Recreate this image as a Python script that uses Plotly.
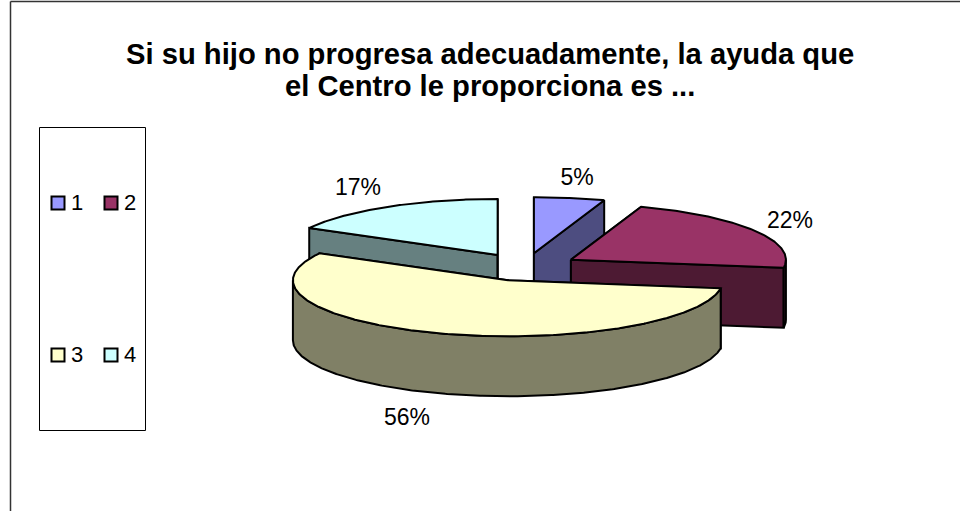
import math
import plotly.graph_objects as go

categories = ["1", "2", "3", "4"]
values = [5.3, 22.0, 55.7, 17.0]
top_colors = ["#9999FF", "#993366", "#FFFFCC", "#CCFFFF"]
wall_colors = ["#4D4D80", "#4D1A33", "#808066", "#668080"]
title_lines = ["Si su hijo no progresa adecuadamente, la ayuda que",
               "el Centro le proporciona es ..."]

# Page-pixel geometry of the tilted pie
W, H = 960, 511
CX, CY, RX, RY, DEPTH, PULL = 525.0, 267, 215, 56, 60, 0.25
LABEL_XY = [(577, 179), (790, 222), (407, 419), (358, 189)]
LEGEND_XY = [(58, 203), (111, 203), (58, 355), (111, 355)]
TITLE_Y = [54, 86]
FONT = "Liberation Sans, Arial, sans-serif"
LW = 2


def rim(cx, cy, a0, a1, dy=0):
    n = max(2, int(abs(a1 - a0) * 2))
    pts = [a0 + (a1 - a0) * i / n for i in range(n + 1)]
    return ([cx + RX * math.sin(math.radians(a)) for a in pts],
            [cy - RY * math.cos(math.radians(a)) + dy for a in pts])


def poly(fig, xs, ys, color):
    fig.add_trace(go.Scatter(
        x=xs + xs[:1], y=ys + ys[:1], mode="lines", fill="toself", fillcolor=color,
        line=dict(color="black", width=LW), hoverinfo="skip", showlegend=False))


fig = go.Figure()

total = sum(values)
slices = []
acc = 0
for v in values:
    a0 = acc / total * 360
    acc += v
    a1 = acc / total * 360
    mid = math.radians((a0 + a1) / 2)
    slices.append((a0, a1, CX + PULL * RX * math.sin(mid), CY - PULL * RY * math.cos(mid)))

for i in [3, 0, 1, 2]:
    a0, a1, cx, cy = slices[i]
    for a in (a0, a1):
        ex = cx + RX * math.sin(math.radians(a))
        ey = cy - RY * math.cos(math.radians(a))
        poly(fig, [cx, ex, ex, cx], [cy, ey, ey + DEPTH, cy + DEPTH], wall_colors[i])
    lo, hi = max(a0, 90), min(a1, 270)
    if hi > lo:
        tx, ty = rim(cx, cy, lo, hi)
        bx, by = rim(cx, cy, hi, lo, DEPTH)
        poly(fig, tx + bx, ty + by, wall_colors[i])
    tx, ty = rim(cx, cy, a0, a1)
    poly(fig, [cx] + tx, [cy] + ty, top_colors[i])

# Percentage labels
fig.add_trace(go.Scatter(
    x=[p[0] for p in LABEL_XY], y=[p[1] for p in LABEL_XY], mode="text",
    text=[f"{round(v / total * 100)}%" for v in values],
    textfont=dict(family=FONT, size=23, color="black"),
    hoverinfo="skip", showlegend=False))

# Legend
for i, c in enumerate(categories):
    fig.add_trace(go.Scatter(
        x=[LEGEND_XY[i][0]], y=[LEGEND_XY[i][1]], mode="markers",
        marker=dict(symbol="square", size=13, color=top_colors[i], line=dict(color="black", width=2)),
        hoverinfo="skip", showlegend=False))
    fig.add_trace(go.Scatter(
        x=[LEGEND_XY[i][0] + 13], y=[LEGEND_XY[i][1] + 1], mode="text",
        text=[c], textposition="middle right",
        textfont=dict(family=FONT, size=22, color="black"),
        hoverinfo="skip", showlegend=False))

fig.update_layout(
    width=W, height=H, autosize=False,
    margin=dict(l=0, r=0, t=0, b=0),
    paper_bgcolor="white", plot_bgcolor="white",
    xaxis=dict(range=[0, W], visible=False, fixedrange=True),
    yaxis=dict(range=[H, 0], visible=False, fixedrange=True),
    shapes=[
        dict(type="rect", x0=39.5, x1=145.5, y0=127.5, y1=430.5, line=dict(color="black", width=1), layer="below"),
        dict(type="line", x0=10.5, x1=10.5, y0=1.5, y1=H, line=dict(color="#333333", width=1.5), layer="below"),
        dict(type="line", x0=10.5, x1=W, y0=1.5, y1=1.5, line=dict(color="#333333", width=1.5), layer="below"),
    ],
    annotations=[dict(
        x=490, y=y, xref="x", yref="y", text=f"<b>{t}</b>", showarrow=False,
        font=dict(family=FONT, size=29.2, color="black"), align="center",
        xanchor="center", yanchor="middle") for t, y in zip(title_lines, TITLE_Y)],
)

fig.write_html("out.html", config=dict(displayModeBar=False),
               post_script="document.body.style.margin='0';document.body.style.overflow='hidden';")
